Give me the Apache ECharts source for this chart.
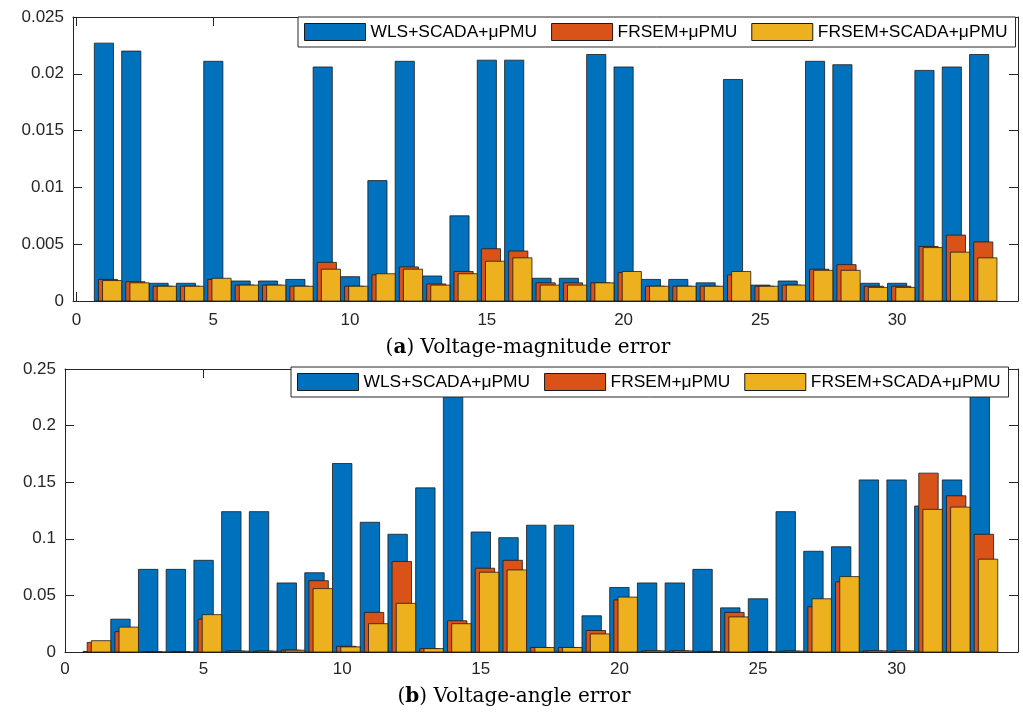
<!DOCTYPE html>
<html>
<head>
<meta charset="utf-8">
<script src="https://cdn.jsdelivr.net/npm/echarts@6/dist/echarts.min.js"></script>
<style>
  html, body { margin: 0; padding: 0; background: #fff; }
  #main { width: 1023px; height: 713px; }
</style>
</head>
<body>
<div id="main"></div>
<script>
// bus numbers
var buses = [1,2,3,4,5,6,7,8,9,10,11,12,13,14,15,16,17,18,19,20,21,22,23,24,25,26,27,28,29,30,31,32,33];
var xTicks = [0,5,10,15,20,25,30];
var names = ['WLS+SCADA+μPMU', 'FRSEM+μPMU', 'FRSEM+SCADA+μPMU'];

// (a) voltage-magnitude error
var magWLS = [0.0227,0.0220,0.00156,0.00156,0.0211,0.00176,0.00176,0.0019,0.0206,0.00214,0.0106,0.0211,0.0022,0.0075,0.0212,0.0212,0.0020,0.0020,0.0217,0.0206,0.0019,0.0019,0.0016,0.0195,0.0014,0.00176,0.0211,0.0208,0.00156,0.00156,0.0203,0.0206,0.0217];
var magFRSEM = [0.0019,0.0017,0.0013,0.0013,0.0019,0.0014,0.0014,0.0013,0.0034,0.0013,0.0023,0.0030,0.0015,0.0026,0.0046,0.0044,0.0016,0.0016,0.0016,0.0025,0.0013,0.0013,0.0013,0.0023,0.0013,0.0014,0.0028,0.0032,0.0013,0.0013,0.0048,0.0058,0.0052];
var magFRSEMSC = [0.0018,0.0016,0.0013,0.0013,0.0020,0.0014,0.0014,0.0013,0.0028,0.0013,0.0024,0.0028,0.0014,0.0024,0.0035,0.0038,0.0014,0.0014,0.0016,0.0026,0.0013,0.0013,0.0013,0.0026,0.0013,0.0014,0.0027,0.0027,0.0012,0.0012,0.0047,0.0043,0.0038];

// (b) voltage-angle error
var angWLS = [0.0005,0.029,0.073,0.073,0.081,0.124,0.124,0.061,0.070,0.1665,0.1146,0.104,0.145,0.30,0.106,0.101,0.112,0.112,0.032,0.057,0.061,0.061,0.073,0.039,0.047,0.124,0.089,0.093,0.152,0.152,0.129,0.152,0.30];
var angFRSEM = [0.0085,0.018,0,0,0.029,0.0008,0.0008,0.0016,0.063,0.005,0.035,0.080,0.003,0.0276,0.074,0.081,0.004,0.004,0.019,0.046,0.001,0.001,0.0005,0.035,0,0.0008,0.040,0.062,0.001,0.001,0.158,0.138,0.104];
var angFRSEMSC = [0.010,0.022,0,0,0.033,0.0008,0.0008,0.0016,0.056,0.0045,0.025,0.043,0.003,0.025,0.0705,0.0725,0.004,0.004,0.016,0.0485,0.001,0.001,0.0005,0.031,0,0.0008,0.047,0.0666,0.001,0.001,0.126,0.128,0.082];

var colors = ['#0072BD', '#D95319', '#EDB120'];
var offsets = [0, 0.15, 0.3];
var barW = 0.7;
var axisColor = '#262626';
var font = 'Liberation Sans, Arial, sans-serif';

function pairs(vals) {
  return buses.map(function (b, i) { return [b, vals[i]]; });
}

function barRenderer(offset, color) {
  return function (params, api) {
    var x = api.value(0);
    var y = api.value(1);
    var p0 = api.coord([x + offset - barW / 2, y]);
    var p1 = api.coord([x + offset + barW / 2, 0]);
    var rect = echarts.graphic.clipRectByRect(
      { x: p0[0], y: p0[1], width: p1[0] - p0[0], height: p1[1] - p0[1] },
      { x: params.coordSys.x, y: params.coordSys.y, width: params.coordSys.width, height: params.coordSys.height }
    );
    if (!rect) return;
    return {
      type: 'rect',
      shape: rect,
      style: { fill: color, stroke: '#1a1a1a', lineWidth: 0.8 }
    };
  };
}

function xAx(grid, min, max, pos, margin) {
  var bottom = pos === 'bottom';
  return {
    type: 'value', gridIndex: grid, position: pos, min: min, max: max,
    axisLine: { show: true, onZero: false, lineStyle: { color: axisColor, width: 1 } },
    axisTick: { show: true, inside: true, length: 9, customValues: xTicks, lineStyle: { color: axisColor } },
    axisLabel: { show: bottom, customValues: xTicks, margin: margin, color: axisColor, fontFamily: font, fontSize: 17 },
    splitLine: { show: false }
  };
}

function yAx(grid, max, interval, pos) {
  var left = pos === 'left';
  return {
    type: 'value', gridIndex: grid, position: pos, min: 0, max: max, interval: interval,
    axisLine: { show: true, onZero: false, lineStyle: { color: axisColor, width: 1 } },
    axisTick: { show: true, inside: true, length: 9, lineStyle: { color: axisColor } },
    axisLabel: { show: left, margin: 9, color: axisColor, fontFamily: font, fontSize: 17 },
    splitLine: { show: false }
  };
}

function legendFor(left, top) {
  return {
    left: left, top: top, orient: 'horizontal',
    itemWidth: 61, itemHeight: 17, itemGap: 14,
    padding: [6, 8, 6, 6],
    backgroundColor: '#fff', borderColor: axisColor, borderWidth: 1, borderRadius: 0,
    icon: 'rect',
    selectedMode: false,
    textStyle: { color: '#000', fontFamily: font, fontSize: 17.4 },
    data: names.map(function (n, i) {
      return { name: n, itemStyle: { color: colors[i], borderColor: '#1a1a1a', borderWidth: 1 } };
    })
  };
}

var groups = [[magWLS, magFRSEM, magFRSEMSC], [angWLS, angFRSEM, angFRSEMSC]];
var series = [];
groups.forEach(function (grp, g) {
  grp.forEach(function (vals, k) {
    series.push({
      type: 'custom', name: names[k],
      xAxisIndex: g * 2, yAxisIndex: g * 2,
      itemStyle: { color: colors[k] },
      encode: { x: 0, y: 1 },
      renderItem: barRenderer(offsets[k], colors[k]),
      data: pairs(vals)
    });
  });
});

var myChart = echarts.init(document.getElementById('main'), null, { renderer: 'canvas' });
var option = {
  animation: false,
  backgroundColor: '#fff',
  grid: [
    { left: 73, right: 5, top: 17, height: 284 },
    { left: 65, right: 5, top: 369, height: 283 }
  ],
  xAxis: [
    xAx(0, -0.13, 34.42, 'bottom', 11),
    xAx(0, -0.13, 34.42, 'top', 8),
    xAx(1, 0, 34.38, 'bottom', 9),
    xAx(1, 0, 34.38, 'top', 8)
  ],
  yAxis: [
    yAx(0, 0.025, 0.005, 'left'),
    yAx(0, 0.025, 0.005, 'right'),
    yAx(1, 0.25, 0.05, 'left'),
    yAx(1, 0.25, 0.05, 'right')
  ],
  legend: [legendFor(298, 17), legendFor(291, 367)],
  graphic: [
    {
      type: 'text', x: 528, y: 348, z: 10,
      style: {
        text: '({b|a}) Voltage-magnitude error',
        textAlign: 'center', textVerticalAlign: 'middle',
        fontFamily: 'DejaVu Serif', fontSize: 20, fill: '#000',
        rich: { b: { fontWeight: 'bold', fontFamily: 'DejaVu Serif', fontSize: 20 } }
      }
    },
    {
      type: 'text', x: 514, y: 697, z: 10,
      style: {
        text: '({b|b}) Voltage-angle error',
        textAlign: 'center', textVerticalAlign: 'middle',
        fontFamily: 'DejaVu Serif', fontSize: 20, fill: '#000',
        rich: { b: { fontWeight: 'bold', fontFamily: 'DejaVu Serif', fontSize: 20 } }
      }
    }
  ],
  series: series
};
myChart.setOption(option);
</script>
</body>
</html>
